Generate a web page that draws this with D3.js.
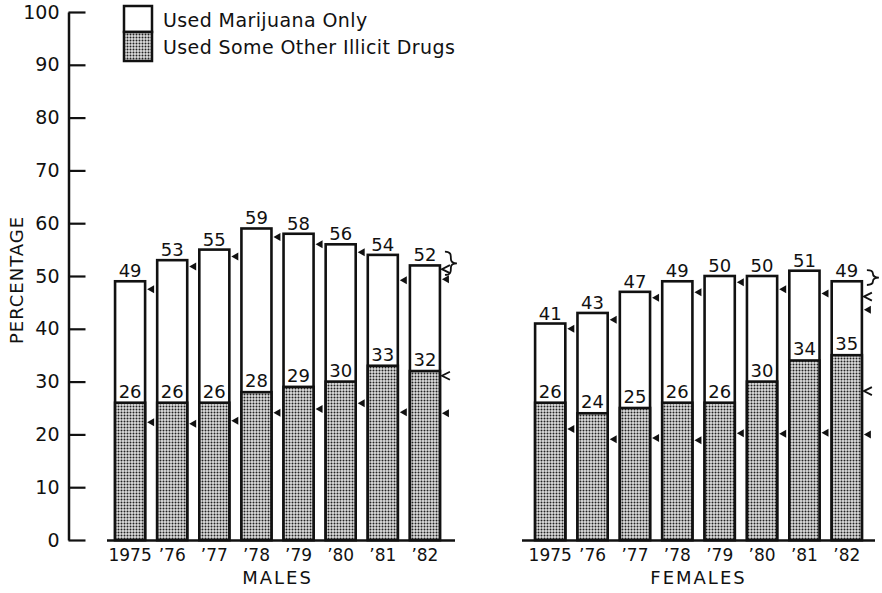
<!DOCTYPE html>
<html>
<head>
<meta charset="utf-8">
<script src="https://cdn.jsdelivr.net/npm/d3@7"></script>
<style>
  body { margin: 0; background: #fff; }
  text { font-family: 'DejaVu Sans', sans-serif; fill: #111; }
</style>
</head>
<body>
<svg id="chart" width="882" height="593"></svg>
<script>
'use strict';
var years = ['1975', '\u201976', '\u201977', '\u201978', '\u201979', '\u201980', '\u201981', '\u201982'];
var yTicks = [0, 10, 20, 30, 40, 50, 60, 70, 80, 90, 100];

var maleTotal = [49, 53, 55, 59, 58, 56, 54, 52];
var maleOther = [26, 26, 26, 28, 29, 30, 33, 32];
var femaleTotal = [41, 43, 47, 49, 50, 50, 51, 49];
var femaleOther = [26, 24, 25, 26, 26, 30, 34, 35];

// small side markers next to each bar
var maleMarkUpper = [47.5, 51.8, 53.7, 57.4, 56.0, 54.5, 49.2, 49.4];
var maleMarkLower = [22.3, 22.0, 22.6, 24.1, 24.8, 25.9, 24.2, 24.0];
var femaleMarkUpper = [40.0, 41.7, 45.9, 46.9, 48.8, 47.5, 46.7, 43.6];
var femaleMarkLower = [21.0, 19.1, 19.3, 18.9, 20.2, 20.1, 20.3, 20.0];
var maleOpenMarks = [51.3, 31.1];
var femaleOpenMarks = [46.1, 28.2];
var maleBrace = [54.6, 50.2];
var femaleBrace = [51.1, 48.3];

var svg = d3.select('#chart');
var y = d3.scaleLinear().domain([0, 100]).range([540, 12]);

var defs = svg.append('defs');
var pat = defs.append('pattern').attr('id', 'stipple').attr('patternUnits', 'userSpaceOnUse')
  .attr('width', 3).attr('height', 3);
pat.append('rect').attr('width', 3).attr('height', 3).attr('fill', '#dedede');
pat.append('circle').attr('cx', 1.5).attr('cy', 1.5).attr('r', 1).attr('fill', '#222');

// y axis
var yAxis = d3.axisLeft(y).tickValues(yTicks).tickSize(-17).tickSizeOuter(0).tickPadding(9);
var ax = svg.append('g').attr('transform', 'translate(68.5,0)').call(yAxis);
ax.select('.domain').attr('stroke', '#111').attr('stroke-width', 2.5);
ax.selectAll('.tick line').attr('stroke', '#111').attr('stroke-width', 2.2);
ax.selectAll('.tick text').style('font-size', '19px').attr('fill', '#111')
  .style('font-family', "'DejaVu Sans', sans-serif");

svg.append('text').attr('transform', 'translate(23,280) rotate(-90)').attr('text-anchor', 'middle')
  .style('font-size', '18px').style('letter-spacing', '1px').text('PERCENTAGE');

// legend
var lg = svg.append('g');
lg.append('rect').attr('x', 124).attr('y', 6).attr('width', 28).attr('height', 26)
  .attr('fill', '#fff').attr('stroke', '#111').attr('stroke-width', 2.5);
lg.append('rect').attr('x', 124).attr('y', 32).attr('width', 28).attr('height', 29)
  .attr('fill', 'url(#stipple)').attr('stroke', '#111').attr('stroke-width', 2.5);
lg.append('text').attr('x', 163).attr('y', 27).style('font-size', '19px').style('letter-spacing', '0.4px')
  .text('Used Marijuana Only');
lg.append('text').attr('x', 163).attr('y', 54).style('font-size', '19px').style('letter-spacing', '0.4px')
  .text('Used Some Other Illicit Drugs');

function brace(x, y0, y1) {
  var m = (y0 + y1) / 2;
  return 'M' + x + ',' + y0 + ' C' + (x + 6) + ',' + y0 + ' ' + (x + 6) + ',' + (y0 + 3) + ' ' + (x + 6) + ',' + (m - 4) +
    ' C' + (x + 6) + ',' + (m - 1) + ' ' + (x + 8) + ',' + m + ' ' + (x + 12) + ',' + m +
    ' C' + (x + 8) + ',' + m + ' ' + (x + 6) + ',' + (m + 1) + ' ' + (x + 6) + ',' + (m + 4) +
    ' C' + (x + 6) + ',' + (y1 - 3) + ' ' + (x + 6) + ',' + y1 + ' ' + x + ',' + y1;
}

function drawPanel(range, base, title, totals, others, markUp, markLow, openMarks, braceVals) {
  var x = d3.scaleBand().domain(years).range(range).paddingInner(0.287).paddingOuter(0.144);
  var g = svg.append('g');
  var bw = x.bandwidth();

  // white (marijuana only) part
  g.selectAll('rect.total').data(years).join('rect').attr('class', 'total')
    .attr('x', function (d) { return x(d); }).attr('width', bw)
    .attr('y', function (d, i) { return y(totals[i]); })
    .attr('height', function (d, i) { return y(0) - y(totals[i]); })
    .attr('fill', '#fff').attr('stroke', '#111').attr('stroke-width', 2.6);
  // stippled (other drugs) part
  g.selectAll('rect.other').data(years).join('rect').attr('class', 'other')
    .attr('x', function (d) { return x(d); }).attr('width', bw)
    .attr('y', function (d, i) { return y(others[i]); })
    .attr('height', function (d, i) { return y(0) - y(others[i]); })
    .attr('fill', 'url(#stipple)').attr('stroke', '#111').attr('stroke-width', 2.6);

  g.selectAll('text.tot').data(years).join('text').attr('class', 'tot')
    .attr('x', function (d) { return x(d) + bw / 2; })
    .attr('y', function (d, i) { return y(totals[i]) - 4; })
    .attr('text-anchor', 'middle').style('font-size', '18px')
    .text(function (d, i) { return totals[i]; });
  g.selectAll('text.oth').data(years).join('text').attr('class', 'oth')
    .attr('x', function (d) { return x(d) + bw / 2; })
    .attr('y', function (d, i) { return y(others[i]) - 5; })
    .attr('text-anchor', 'middle').style('font-size', '18px')
    .text(function (d, i) { return others[i]; });

  var tri = function (v, d) {
    var px = x(d) + bw + 2, py = y(v);
    return 'M' + px + ',' + py + 'L' + (px + 7) + ',' + (py - 4) + 'L' + (px + 7) + ',' + (py + 4) + 'Z';
  };
  g.selectAll('path.mu').data(years).join('path').attr('class', 'mu')
    .attr('d', function (d, i) { return tri(markUp[i], d); }).attr('fill', '#111');
  g.selectAll('path.ml').data(years).join('path').attr('class', 'ml')
    .attr('d', function (d, i) { return tri(markLow[i], d); }).attr('fill', '#111');

  var last = years[years.length - 1];
  g.selectAll('path.open').data(openMarks).join('path').attr('class', 'open')
    .attr('d', function (v) {
      var px = x(last) + bw + 2, py = y(v);
      return 'M' + (px + 8) + ',' + (py - 4) + 'L' + px + ',' + py + 'L' + (px + 8) + ',' + (py + 4);
    })
    .attr('fill', 'none').attr('stroke', '#111').attr('stroke-width', 1.8);
  g.append('path').attr('d', brace(x(last) + bw + 5, y(braceVals[0]), y(braceVals[1])))
    .attr('fill', 'none').attr('stroke', '#111').attr('stroke-width', 1.8);

  g.append('line').attr('x1', base[0]).attr('x2', base[1]).attr('y1', y(0) + 0.5).attr('y2', y(0) + 0.5)
    .attr('stroke', '#111').attr('stroke-width', 2.6);

  g.selectAll('text.yr').data(years).join('text').attr('class', 'yr')
    .attr('x', function (d) { return x(d) + bw / 2; }).attr('y', 561)
    .attr('text-anchor', 'middle').style('font-size', '17px')
    .text(function (d) { return d; });

  g.append('text').attr('x', (x(years[0]) + x(last) + bw) / 2).attr('y', 584)
    .attr('text-anchor', 'middle').style('font-size', '18px').style('letter-spacing', '2px').text(title);
}

drawPanel([109, 446], [107, 455], 'MALES', maleTotal, maleOther, maleMarkUpper, maleMarkLower, maleOpenMarks, maleBrace);
drawPanel([529, 868], [522, 875], 'FEMALES', femaleTotal, femaleOther, femaleMarkUpper, femaleMarkLower, femaleOpenMarks, femaleBrace);
</script>
</body>
</html>
